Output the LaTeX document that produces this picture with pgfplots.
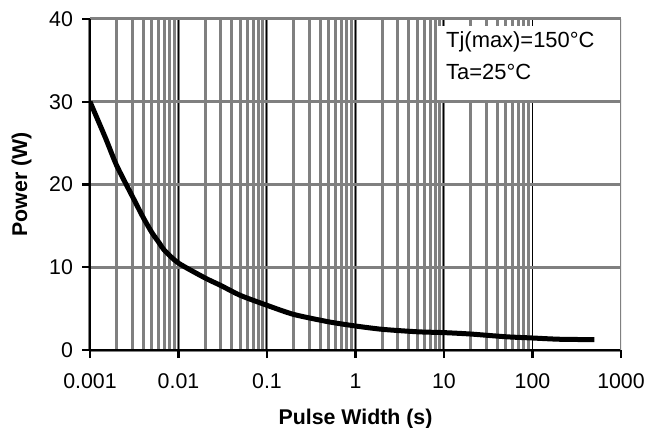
\documentclass[border=0pt]{standalone}
\usepackage{pgfplots}
\pgfplotsset{compat=1.18}
\usepackage{fontspec}
\setmainfont{Liberation Sans}

\definecolor{gridgray}{RGB}{128,128,128}

\begin{document}
\begin{tikzpicture}
    \begin{axis}[
        name=ax,
        scale only axis,
        width=265.5bp,
        height=165.5bp,
        xmode=log,
        xmin=0.001, xmax=1000,
        ymin=0, ymax=40,
        axis x line*=bottom,
        axis y line*=left,
        axis line style={black, line width=1.1bp},
        tick align=outside,
        major tick length=4bp,
        minor tick length=0pt,
        tick style={black, line width=1.1bp},
        xtick={0.001,0.01,0.1,1,10,100},
        xticklabels={0.001,0.01,0.1,1,10,100},
        extra x ticks={1000},
        extra x tick labels={1000},
        extra x tick style={grid=none},
        ytick={0,10,20,30,40},
        xmajorgrids, xminorgrids, ymajorgrids,
        grid style={gridgray, line width=1.5bp},
        major x grid style={black, line width=0.5bp},
        font=\fontsize{10.7}{12}\selectfont,
        /pgf/number format/assume math mode=true,
        xticklabel style={yshift=-4.5bp},
        yticklabel style={xshift=-1bp},
        xlabel={\bfseries Pulse Width (s)},
        ylabel={\bfseries Power (W)},
        xlabel style={yshift=5bp},
        ylabel style={yshift=2bp},
    ]
        \addplot[black, line width=2.5bp, smooth, tension=0.4, mark=none] coordinates {
            (0.001,30) (0.0015,25.6) (0.002,22.3) (0.003,18.6) (0.004,16.0)
            (0.005,14.2) (0.006,13.0) (0.007,12.0) (0.01,10.5) (0.02,8.7)
            (0.03,7.8) (0.05,6.6) (0.1,5.4) (0.2,4.3) (0.5,3.4) (1,2.9)
            (2,2.5) (5,2.2) (10,2.1) (20,1.93) (50,1.6) (100,1.45)
            (200,1.3) (500,1.25)
        };
        \draw[gridgray, line width=1.5bp] (rel axis cs:1,0) -- (rel axis cs:1,1);
        \fill[white] (rel axis cs:0.655,0.979) rectangle (rel axis cs:0.951,0.755);
        \node[anchor=west, font=\fontsize{11}{13}\selectfont, inner sep=0pt]
            at ([xshift=4bp, yshift=-8bp]rel axis cs:0.655,0.979) {Tj(max)=150°C};
        \node[anchor=west, font=\fontsize{11}{13}\selectfont, inner sep=0pt]
            at ([xshift=4bp, yshift=-23bp]rel axis cs:0.655,0.979) {Ta=25°C};
    \end{axis}
    \pgfresetboundingbox
    \path ([shift={(-45bp,-39bp)}]ax.south west) rectangle ([shift={(19.5bp,9.5bp)}]ax.north east);
\end{tikzpicture}
\end{document}
